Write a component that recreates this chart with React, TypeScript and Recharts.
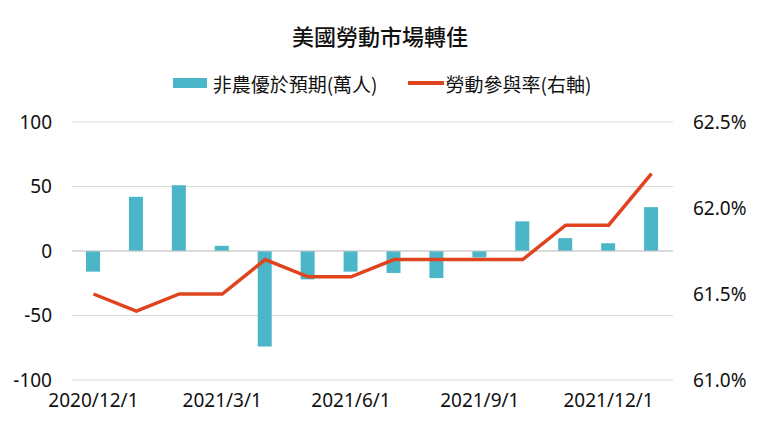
import React from "react";
import {
  ComposedChart,
  Bar,
  Line,
  XAxis,
  YAxis,
  CartesianGrid,
  ReferenceLine,
} from "recharts";

const months = [
  "2020/12/1", "2021/1/1", "2021/2/1", "2021/3/1", "2021/4/1", "2021/5/1", "2021/6/1",
  "2021/7/1", "2021/8/1", "2021/9/1", "2021/10/1", "2021/11/1", "2021/12/1", "2022/1/1",
];
const payrollSurprise = [-16, 42, 51, 4, -74, -22, -16, -17, -21, -5, 23, 10, 6, 34];
const participation = [61.5, 61.4, 61.5, 61.5, 61.7, 61.6, 61.6, 61.7, 61.7, 61.7, 61.7, 61.9, 61.9, 62.2];
const leftTicks = [-100, -50, 0, 50, 100];
const rightTicks = [61.0, 61.5, 62.0, 62.5];

const barName = "非農優於預期(萬人)";
const lineName = "勞動參與率(右軸)";
const title = "美國勞動市場轉佳";

const data = months.map((m, i) => ({
  month: m,
  bar: payrollSurprise[i],
  line: participation[i],
}));

const FONT = '"Noto Sans CJK TC", "Noto Sans", sans-serif';
const NUM_FONT = '"Noto Sans", "Noto Sans CJK TC", sans-serif';
const BAR_COLOR = "#4BB6C8";
const LINE_COLOR = "#E0441F";

export default function App() {
  return (
    <div style={{ position: "absolute", left: 0, top: 0, width: 760, height: 430, background: "#fff" }}>
      <div
        style={{
          position: "absolute",
          top: 20,
          left: 0,
          width: 760,
          textAlign: "center",
          fontFamily: FONT,
          fontSize: 22,
          lineHeight: "30px",
          fontWeight: 500,
          color: "#111",
        }}
      >
        {title}
      </div>
      <div
        style={{
          position: "absolute",
          top: 69,
          left: 0,
          width: 760,
          height: 28,
          display: "flex",
          justifyContent: "center",
          alignItems: "center",
          fontFamily: FONT,
          fontSize: 19,
          color: "#111",
        }}
      >
        <span style={{ display: "inline-block", width: 34, height: 10, background: BAR_COLOR, marginRight: 6, marginLeft: 4 }} />
        <span style={{ marginRight: 30 }}>{barName}</span>
        <span style={{ display: "inline-block", width: 36, height: 4, background: LINE_COLOR, marginRight: 2 }} />
        <span>{lineName}</span>
      </div>
      <ComposedChart
        width={760}
        height={430}
        data={data}
        margin={{ top: 122, right: 0, bottom: 20, left: 0 }}
      >
        <CartesianGrid yAxisId="left" vertical={false} stroke="#d9d9d9" />
        <XAxis
          dataKey="month"
          interval={2}
          axisLine={false}
          tickLine={false}
          height={30}
          tickSize={6}
          tickMargin={8}
          tick={{ fill: "#111", fontSize: 19, fontFamily: NUM_FONT }}
        />
        <YAxis
          yAxisId="left"
          domain={[-100, 100]}
          ticks={leftTicks}
          width={72}
          axisLine={false}
          tickLine={false}
          tickMargin={14}
          tick={{ fill: "#111", fontSize: 19, fontFamily: NUM_FONT }}
        />
        <YAxis
          yAxisId="right"
          orientation="right"
          domain={[61.0, 62.5]}
          ticks={rightTicks}
          width={87}
          axisLine={false}
          tickLine={false}
          tickMargin={14}
          tickFormatter={(v: number) => `${v.toFixed(1)}%`}
          tick={{ fill: "#111", fontSize: 19, fontFamily: NUM_FONT }}
        />
        <ReferenceLine yAxisId="left" y={0} stroke="#c8c8c8" />
        <Bar
          yAxisId="left"
          dataKey="bar"
          name={barName}
          fill={BAR_COLOR}
          barSize={14}
          isAnimationActive={false}
        />
        <Line
          yAxisId="right"
          dataKey="line"
          name={lineName}
          stroke={LINE_COLOR}
          strokeWidth={3.5}
          dot={false}
          type="linear"
          isAnimationActive={false}
        />
      </ComposedChart>
    </div>
  );
}
